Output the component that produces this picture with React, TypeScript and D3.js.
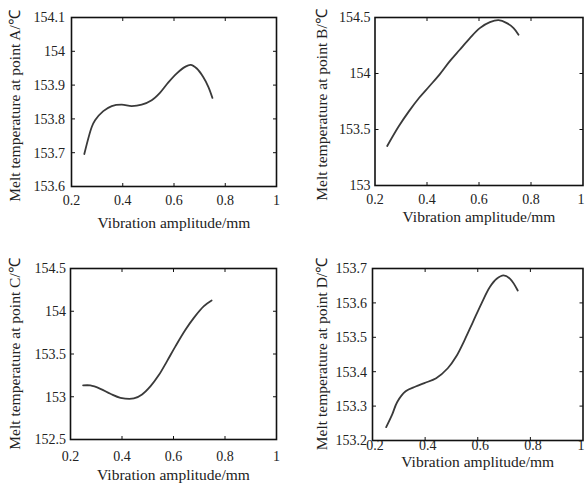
import React from "react";
import * as d3 from "d3";

// ---- data ----
const xTicks = [0.2, 0.4, 0.6, 0.8, 1];
const xTickLabels = ["0.2", "0.4", "0.6", "0.8", "1"];

const ampA = [0.25, 0.279, 0.292, 0.324, 0.357, 0.396, 0.435, 0.474, 0.513, 0.545, 0.578, 0.61, 0.643, 0.665, 0.689, 0.714, 0.734, 0.75];
const tempA = [153.696, 153.776, 153.796, 153.823, 153.838, 153.842, 153.838, 153.842, 153.855, 153.877, 153.908, 153.934, 153.954, 153.96, 153.949, 153.924, 153.895, 153.862];
const yTicksA = [153.6, 153.7, 153.8, 153.9, 154, 154.1];
const yLabelsA = ["153.6", "153.7", "153.8", "153.9", "154", "154.1"];

const ampB = [0.247, 0.292, 0.331, 0.37, 0.409, 0.448, 0.487, 0.526, 0.565, 0.603, 0.642, 0.675, 0.707, 0.733, 0.752];
const tempB = [153.353, 153.531, 153.664, 153.783, 153.886, 153.99, 154.108, 154.212, 154.316, 154.405, 154.458, 154.476, 154.45, 154.405, 154.346];
const yTicksB = [153, 153.5, 154, 154.5];
const yLabelsB = ["153", "153.5", "154", "154.5"];

const ampC = [0.249, 0.277, 0.316, 0.355, 0.394, 0.446, 0.478, 0.511, 0.543, 0.575, 0.608, 0.647, 0.679, 0.718, 0.748];
const tempC = [153.132, 153.132, 153.093, 153.035, 152.988, 152.98, 153.027, 153.124, 153.253, 153.417, 153.592, 153.786, 153.923, 154.06, 154.126];
const yTicksC = [152.5, 153, 153.5, 154, 154.5];
const yLabelsC = ["152.5", "153", "153.5", "154", "154.5"];

const ampD = [0.252, 0.275, 0.294, 0.326, 0.364, 0.397, 0.442, 0.486, 0.518, 0.55, 0.582, 0.614, 0.646, 0.672, 0.698, 0.723, 0.752];
const tempD = [153.239, 153.276, 153.312, 153.343, 153.357, 153.367, 153.381, 153.41, 153.444, 153.492, 153.545, 153.598, 153.646, 153.67, 153.68, 153.67, 153.636];
const yTicksD = [153.2, 153.3, 153.4, 153.5, 153.6, 153.7];
const yLabelsD = ["153.2", "153.3", "153.4", "153.5", "153.6", "153.7"];

const xTitle = "Vibration amplitude/mm";
const yTitles = [
  "Melt temperature at point A/\u2103",
  "Melt temperature at point B/\u2103",
  "Melt temperature at point C/\u2103",
  "Melt temperature at point D/\u2103",
];

// ---- layout ----
const W = 585;
const H = 490;
const boxes = [
  { x0: 71.5, x1: 276.5, y0: 17.5, y1: 186.5, yl: 15, ylc: 106, xlb: 228, tlb: 205, gap: 6.5, dx: 0 },
  { x0: 375, x1: 583, y0: 17.5, y1: 185.5, yl: 322, ylc: 105, xlb: 221.5, tlb: 204, gap: 4.5, dx: 0 },
  { x0: 70.5, x1: 276.5, y0: 268.5, y1: 439.5, yl: 15, ylc: 354, xlb: 480, tlb: 461, gap: 4.5, dx: 0 },
  { x0: 372.5, x1: 583, y0: 268.5, y1: 440.5, yl: 322, ylc: 354, xlb: 466.5, tlb: 449.5, gap: 5.5, dx: 2.5 },
];

const series = [
  { amp: ampA, temp: tempA, yTicks: yTicksA, yLabels: yLabelsA },
  { amp: ampB, temp: tempB, yTicks: yTicksB, yLabels: yLabelsB },
  { amp: ampC, temp: tempC, yTicks: yTicksC, yLabels: yLabelsC },
  { amp: ampD, temp: tempD, yTicks: yTicksD, yLabels: yLabelsD },
];

const FONT = "'Liberation Serif', 'Times New Roman', serif";

function Panel({ idx }: { idx: number }) {
  const b = boxes[idx];
  const s = series[idx];
  const x = d3.scaleLinear().domain([0.2, 1]).range([b.x0, b.x1]);
  const yMin = s.yTicks[0];
  const yMax = s.yTicks[s.yTicks.length - 1];
  const y = d3.scaleLinear().domain([yMin, yMax]).range([b.y1, b.y0]);
  const pts = s.amp.map((a, i) => [a, s.temp[i]] as [number, number]);
  const line = d3
    .line<[number, number]>()
    .x((d) => x(d[0]))
    .y((d) => y(d[1]))
    .curve(d3.curveCatmullRom.alpha(0.5));
  const tl = 3.5;
  return (
    <g>
      <path d={line(pts) || ""} fill="none" stroke="#3a3a3a" strokeWidth={1.8} strokeLinejoin="round" strokeLinecap="round" />
      {xTicks.map((t, i) => {
        const cx = x(t) + b.dx;
        const lbl = xTickLabels[i];
        const half = lbl.length * 3.6;
        const clamp = cx + half > W - 0.5;
        return (
          <g key={"xt" + i}>
            {i > 0 && i < xTicks.length - 1 && (
              <>
                <line x1={x(t)} x2={x(t)} y1={b.y1} y2={b.y1 - tl} stroke="#111" strokeWidth={1} />
                <line x1={x(t)} x2={x(t)} y1={b.y0} y2={b.y0 + tl} stroke="#111" strokeWidth={1} />
              </>
            )}
            <text
              x={clamp ? W - 0.5 : cx}
              y={b.tlb}
              textAnchor={clamp ? "end" : "middle"}
              fontSize={14}
              fontFamily={FONT}
              fill="#222"
            >
              {lbl}
            </text>
          </g>
        );
      })}
      {s.yTicks.map((t, i) => (
        <g key={"yt" + i}>
          {i > 0 && i < s.yTicks.length - 1 && (
            <>
              <line x1={b.x0} x2={b.x0 + tl} y1={y(t)} y2={y(t)} stroke="#111" strokeWidth={1} />
              <line x1={b.x1} x2={b.x1 - tl} y1={y(t)} y2={y(t)} stroke="#111" strokeWidth={1} />
            </>
          )}
          <text x={b.x0 - b.gap} y={y(t)} dy="0.35em" textAnchor="end" fontSize={14} fontFamily={FONT} fill="#222">
            {s.yLabels[i]}
          </text>
        </g>
      ))}
      <rect x={b.x0} y={b.y0} width={b.x1 - b.x0} height={b.y1 - b.y0} fill="none" stroke="#111" strokeWidth={1.6} />
      <text x={(b.x0 + b.x1) / 2} y={b.xlb} textAnchor="middle" fontSize={15.5} fontFamily={FONT} fill="#222">
        {xTitle}
      </text>
      <text
        transform={`translate(${b.yl},${b.ylc}) rotate(-90)`}
        textAnchor="middle"
        dy="0.35em"
        fontSize={15.5}
        fontFamily={FONT}
        fill="#222"
      >
        {yTitles[idx]}
      </text>
    </g>
  );
}

export default function App() {
  return (
    <svg
      width={W}
      height={H}
      style={{ position: "absolute", left: 0, top: 0, background: "#fff" }}
    >
      <rect x={0} y={0} width={W} height={H} fill="#fff" />
      {[0, 1, 2, 3].map((i) => (
        <Panel key={i} idx={i} />
      ))}
    </svg>
  );
}
